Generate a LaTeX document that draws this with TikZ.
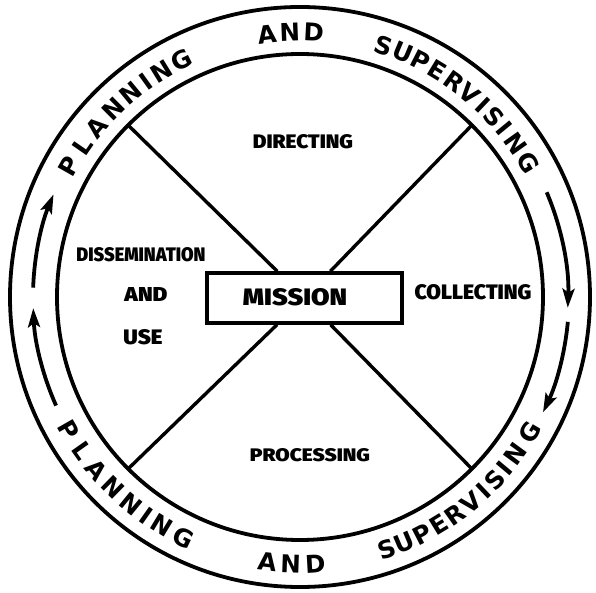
\documentclass[tikz,border=0pt]{standalone}
\usepackage{fontspec}
\usepackage{graphicx}
\usetikzlibrary{arrows.meta}
\setmainfont{Liberation Sans}
\newfontfamily\ringfnt{DejaVu Sans Bold}
\newfontfamily\heavy{Fira Sans}[UprightFont={* Black}]
\newcommand{\lbl}[3]{\resizebox{#1pt}{#2pt}{#3}}
\begin{document}
\begin{tikzpicture}[x=1pt,y=1pt,line width=3.8pt,
  ring/.style={font=\ringfnt\fontsize{24.5}{25}\selectfont, inner sep=0pt},
  lab/.style={font=\heavy\fontsize{20}{20}\selectfont, inner sep=0pt},
  arr/.style={line width=3.8pt,-{Stealth[length=19pt,width=12pt,inset=4pt]}},
  diag/.style={line width=3.4pt}]
\useasboundingbox (-300,-296) rectangle (296,297);
% circles
\draw (0,0) circle (290);
\draw (0,0) circle (243);
% box
\node[draw, line width=3.4pt, minimum width=195, minimum height=50, inner sep=0pt] (m) at (4.5,-1) {};
\node[lab] (mt) at (-5,0) {\lbl{104}{17}{MISSION}};
% diagonals
\coordinate (ul) at (135:243);
\coordinate (ur) at (45:243);
\coordinate (ll) at (225:243);
\coordinate (lr) at (-45:243);
\draw[diag] (ul) -- (m);
\draw[diag] (ur) -- (m);
\draw[diag] (ll) -- (m);
\draw[diag] (lr) -- (m);
% labels
\node[lab] (dir) at (3,155) {\lbl{100}{14}{DIRECTING}};
\node[lab] (col) at (173,5) {\lbl{117}{15}{COLLECTING}};
\node[lab] (dis) at (-159,42) {\lbl{129}{14}{DISSEMINATION}};
\node[lab] (and) at (-154,2) {\lbl{43}{14}{AND}};
\node[lab] (use) at (-157,-40) {\lbl{39}{15}{USE}};
\node[lab] (pro) at (10,-158) {\lbl{120}{13}{PROCESSING}};
% arrows
\draw[arr] (23:268) arc[start angle=23, end angle=-2.3, radius=268];
\draw[arr] (-5.3:269) arc[start angle=-5.3, end angle=-25.4, radius=269];
\draw[arr] (178:267) arc[start angle=178, end angle=157.4, radius=267];
\draw[arr] (204:267) arc[start angle=204, end angle=182.4, radius=267];
% ring text top
\foreach \a/\l [count=\i] in {150.5/P,145.3/L,140.1/A,134.8/N,129.6/N,125.6/I,121.6/N,116.6/G,
  97.2/A,92.2/N,87.0/D,
  71.6/S,67.2/U,62.9/P,58.7/E,54.5/R,50.2/V,46.4/I,42.9/S,39.4/I,35.4/N,30.4/G}
  \node[ring, rotate=\a-90] (t\i) at (\a:265) {\l};
% ring text bottom
\foreach \a/\l [count=\i] in {209.8/P,215.2/L,220.4/A,225.6/N,230.8/N,234.9/I,238.9/N,244.2/G,
  263.0/A,268.0/N,273.3/D,
  288.9/S,293.0/U,297.2/P,301.4/E,305.4/R,309.8/V,313.5/I,316.8/S,320.0/I,323.9/N,329.5/G}
  \node[ring, rotate=\a+90] (b\i) at (\a:267) {\l};
\end{tikzpicture}
\end{document}
